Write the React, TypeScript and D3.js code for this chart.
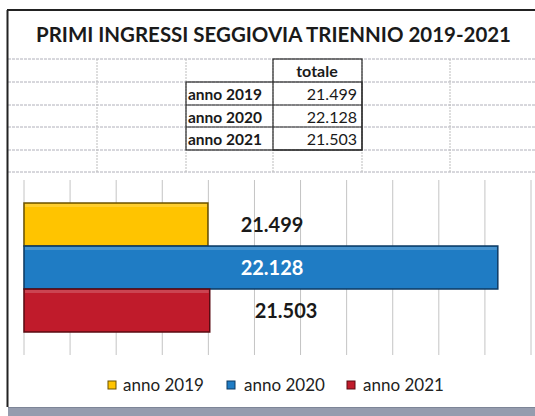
import React from "react";
import * as d3 from "d3";

const title = "PRIMI INGRESSI SEGGIOVIA TRIENNIO 2019-2021";
const years = ["anno 2019", "anno 2020", "anno 2021"];
const totals = [21499, 22128, 21503];
const columnHeader = "totale";
const xTicks = [21100, 21200, 21300, 21400, 21500, 21600, 21700, 21800, 21900, 22000, 22100, 22200];
const colors = ["#FFC400", "#1F7CC4", "#C01B2B"];
const strokes = ["#6b5200", "#0d3a63", "#5a0b12"];
const labelColors = ["#1a1a1a", "#ffffff", "#1a1a1a"];

const W = 535;
const H = 416;
const FONT = "Lato, 'Open Sans', sans-serif";

const it = d3.formatLocale({ decimal: ",", thousands: ".", grouping: [3], currency: ["€", ""] });
const fmt = it.format(",d");

export default function App() {
  const x = d3.scaleLinear().domain([21100, 22200]).range([24, 531]);
  const cat = d3.scaleBand().domain(["tot"]).range([180, 355]).paddingInner(0).paddingOuter(0.13);
  const y = d3.scaleBand().domain(years).range([203, 332]).padding(0);
  const bh = y.bandwidth();

  // spreadsheet grid
  const rowLines = [59, 82, 105, 127, 150, 172];
  const colLines = [97, 186, 273, 362, 450];

  // label center positions (manual placements as in the original)
  const labelCx = [272, 272, 286];

  const legendItems = [
    { sx: 108, tx: 123 },
    { sx: 227, tx: 244 },
    { sx: 347, tx: 363 },
  ];

  return (
    <svg
      width={W}
      height={H}
      style={{ position: "absolute", left: 0, top: 0, background: "#fff" }}
      fontFamily={FONT}
    >
      <rect x={0} y={0} width={W} height={H} fill="#fff" />
      {/* title */}
      <text
        x={36}
        y={42}
        fontSize={20.5}
        fontWeight={700}
        fill="#1a1a1a"
        textLength={475}
        lengthAdjust="spacingAndGlyphs"
      >
        {title}
      </text>

      {/* spreadsheet grid lines */}
      {rowLines.map((ry, i) => (
        <line key={"r" + i} x1={8} x2={W} y1={ry} y2={ry} stroke="#b0b0ba" strokeWidth={1} strokeDasharray="3,1" />
      ))}
      {colLines.map((cx, i) => (
        <line key={"c" + i} x1={cx} x2={cx} y1={59} y2={172} stroke="#bdbdbd" strokeWidth={1} strokeDasharray="2,1" />
      ))}

      {/* table borders */}
      <g stroke="#2a2a2a" strokeWidth={1.2} fill="none">
        <rect x={186} y={82} width={176} height={68} />
        <rect x={273} y={59} width={89} height={91} />
        <line x1={186} x2={362} y1={105} y2={105} />
        <line x1={186} x2={362} y1={127} y2={127} />
      </g>
      <text x={317} y={77} fontSize={16} fontWeight={700} textAnchor="middle" fill="#1a1a1a">
        {columnHeader}
      </text>
      {years.map((yr, i) => (
        <g key={"t" + yr}>
          <text x={188} y={100 + i * 22.5} fontSize={15.5} fontWeight={700} fill="#1a1a1a">
            {yr}
          </text>
          <text x={357} y={100 + i * 22.5} fontSize={16} textAnchor="end" fill="#1a1a1a">
            {fmt(totals[i])}
          </text>
        </g>
      ))}

      {/* outer frame */}
      <line x1={7} x2={W} y1={10} y2={10} stroke="#222" strokeWidth={2} />
      <line x1={7.5} x2={7.5} y1={10} y2={407} stroke="#222" strokeWidth={2} />

      {/* chart gridlines */}
      {xTicks.map((t) => (
        <line
          key={"g" + t}
          x1={x(t)}
          x2={x(t)}
          y1={cat.range()[0]}
          y2={cat.range()[1]}
          stroke="#c4c4c4"
          strokeWidth={1}
        />
      ))}

      {/* bars */}
      {years.map((yr, i) => (
        <g key={"b" + yr}>
          <rect
            x={x(21100)}
            y={y(yr)!}
            width={x(totals[i]) - x(21100)}
            height={bh}
            fill={colors[i]}
            stroke={strokes[i]}
            strokeWidth={1.5}
          />
          <rect
            x={x(21100) + 1}
            y={y(yr)! + 1}
            width={x(totals[i]) - x(21100) - 2}
            height={3}
            fill="#ffffff"
            opacity={0.18}
          />
        </g>
      ))}

      {/* data labels */}
      {years.map((yr, i) => (
        <text
          key={"l" + yr}
          x={labelCx[i]}
          y={y(yr)! + bh / 2 + 7}
          fontSize={20}
          fontWeight={700}
          textAnchor="middle"
          fill={labelColors[i]}
        >
          {fmt(totals[i])}
        </text>
      ))}

      {/* legend */}
      {years.map((yr, i) => (
        <g key={"lg" + yr}>
          <rect x={legendItems[i].sx} y={381} width={8} height={8} fill={colors[i]} stroke={strokes[i]} strokeWidth={1} />
          <text x={legendItems[i].tx} y={391} fontSize={17} fill="#222">
            {yr}
          </text>
        </g>
      ))}

      {/* bottom spreadsheet band */}
      <rect x={8} y={407} width={W - 8} height={9} fill="#959cae" />
      <line x1={8} x2={W} y1={407.5} y2={407.5} stroke="#7d8597" />
    </svg>
  );
}
